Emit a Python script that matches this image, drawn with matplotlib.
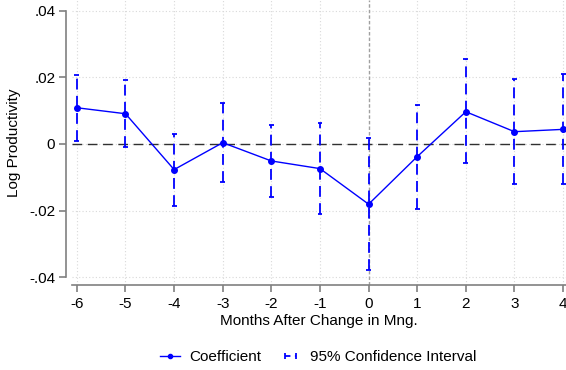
import numpy as np
import matplotlib
matplotlib.use("Agg")
from matplotlib import pyplot as plt
from matplotlib.lines import Line2D
from matplotlib.legend_handler import HandlerLine2D

# Datos
meses = [-6, -5, -4, -3, -2, -1, 0, 1, 2, 3, 4]
coef = [0.0109, 0.0091, -0.0077, 0.0004, -0.0051, -0.0074, -0.0181, -0.0038, 0.0097, 0.0037, 0.0044]
ic_sup = [0.0207, 0.0192, 0.0029, 0.0124, 0.0057, 0.0062, 0.0017, 0.0118, 0.0255, 0.0195, 0.0211]
ic_inf = [0.0010, -0.0009, -0.0186, -0.0114, -0.0158, -0.0211, -0.0379, -0.0195, -0.0058, -0.0120, -0.0121]

xticks = meses
yticks = [-0.04, -0.02, 0, 0.02, 0.04]
ytick_labels = ["-.04", "-.02", "0", ".02", ".04"]

plt.rcParams['font.family'] = ['Liberation Sans', 'DejaVu Sans']
plt.rcParams['axes.unicode_minus'] = False
azul = '#0000ff'
fs = 11

fig = plt.figure(figsize=(5.66, 3.70), dpi=100)
ax = fig.add_axes([72 / 566, 85 / 370, 494 / 566, 285 / 370])

# rejilla punteada
for yv in yticks:
    ax.axhline(yv, color='#d9d9d9', lw=0.8, ls=(0, (1, 2)), zorder=0)
for xv in xticks:
    if xv != 0:
        ax.axvline(xv, color='#d9d9d9', lw=0.8, ls=(0, (1, 2)), zorder=0)

ax.axvline(0, color='#a0a0a0', lw=1.0, ls=(0, (2.5, 1.5)), zorder=1)
ax.axhline(0, color='#303030', lw=1.0, ls=(0, (7, 4)), zorder=1)

# intervalos de confianza
ax.vlines(meses, ic_inf, ic_sup, colors=azul, lw=1.3, linestyles=(0, (6, 3.5)), zorder=2)
ax.hlines(ic_sup, np.array(meses) - 0.05, np.array(meses) + 0.05, colors=azul, lw=1.3, zorder=2)
ax.hlines(ic_inf, np.array(meses) - 0.05, np.array(meses) + 0.05, colors=azul, lw=1.3, zorder=2)

ax.plot(meses, coef, color=azul, lw=1.0, marker='o', ms=4, zorder=3)

ax.set_xlim(-6.1, 4.06)
ax.set_ylim(-0.0424, 0.0433)
ax.set_xticks(xticks)
ax.set_yticks(yticks)
ax.set_yticklabels(ytick_labels)
ax.tick_params(labelsize=fs, length=5, color='#808080', width=1.2, pad=3)
ax.tick_params(axis='x', pad=4)

for s in ['top', 'right']:
    ax.spines[s].set_visible(False)
ax.spines['left'].set_position(('outward', 4))
ax.spines['left'].set_bounds(-0.04, 0.04)
ax.spines['bottom'].set_bounds(-6.1, 4.06)
for s in ['left', 'bottom']:
    ax.spines[s].set_color('#808080')
    ax.spines[s].set_linewidth(1.2)

ax.set_xlabel("Months After Change in Mng.", fontsize=fs, labelpad=2)
ax.set_ylabel("Log Productivity", fontsize=fs, labelpad=6)

h_coef = Line2D([], [], color=azul, lw=1.0, marker='o', ms=3)
h_ic = Line2D([], [], color=azul, lw=1.3, ls=(0, (3, 2.5)), marker='|', ms=5, mew=1.3)
fig.legend([h_coef, h_ic], ["Coefficient", "95% Confidence Interval"],
           handler_map={h_ic: HandlerLine2D(numpoints=2)},
           loc='center', bbox_to_anchor=(318 / 566, 1 - 357 / 370), ncol=2,
           frameon=False, fontsize=fs, handlelength=1.3, handletextpad=0.6, columnspacing=1.3)

fig.savefig("out.png", dpi=100)
